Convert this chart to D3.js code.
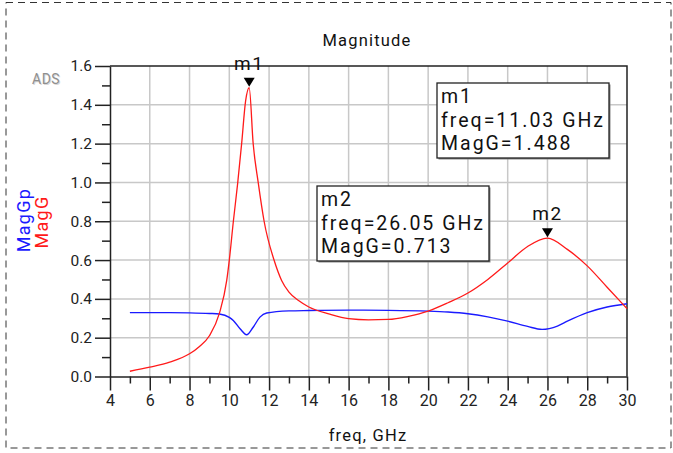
<!DOCTYPE html>
<html>
<head>
<meta charset="utf-8">
<script src="https://cdn.jsdelivr.net/npm/d3@7"></script>
<style>
  body { margin: 0; background: #fff; }
  text { font-family: Roboto, "Liberation Sans", sans-serif; }
</style>
</head>
<body>
<div id="plot"></div>
<script>
// MagG (red) readings, freq in GHz
var freqG = [5, 6, 7, 8, 8.5, 9, 9.5, 9.87, 10.0, 10.2, 10.42, 10.62, 10.82, 11.0, 11.2, 11.46, 11.75, 12.25, 12.63, 13, 13.5, 14, 15, 16, 17, 18, 19, 20, 21, 22, 23, 24, 25, 26, 27, 28, 29, 30];
var magG  = [0.027, 0.048, 0.074, 0.117, 0.155, 0.21, 0.325, 0.495, 0.6, 0.796, 0.995, 1.2, 1.42, 1.488, 1.2, 0.995, 0.8, 0.6, 0.495, 0.435, 0.39, 0.358, 0.323, 0.298, 0.292, 0.294, 0.31, 0.337, 0.38, 0.43, 0.5, 0.585, 0.67, 0.713, 0.655, 0.57, 0.46, 0.35];

// MagGp (blue) readings
var freqGp = [5, 6, 7, 8, 9, 9.5, 10.0, 10.2, 10.54, 10.87, 11.2, 11.54, 11.88, 13, 14, 16, 18, 20, 21, 22, 23, 24, 25, 25.73, 26.5, 27, 28, 29, 30];
var magGp  = [0.329, 0.329, 0.329, 0.328, 0.325, 0.322, 0.305, 0.289, 0.246, 0.215, 0.254, 0.306, 0.327, 0.338, 0.34, 0.342, 0.341, 0.337, 0.332, 0.323, 0.307, 0.285, 0.258, 0.243, 0.26, 0.285, 0.329, 0.358, 0.375];

var markerNames = ['m1', 'm2'];
var markerFreq  = [11.03, 26.05];
var markerVal   = [1.488, 0.713];

var xTicks = [4, 6, 8, 10, 12, 14, 16, 18, 20, 22, 24, 26, 28, 30];
var yTicks = [0.0, 0.2, 0.4, 0.6, 0.8, 1.0, 1.2, 1.4, 1.6];

var w = 673, h = 453;

var svg = d3.select('#plot').append('svg')
    .attr('width', w)
    .attr('height', h);

// dashed page border
svg.append('rect')
    .attr('x', 6).attr('y', 2.5)
    .attr('width', 665).attr('height', 445.5)
    .style('fill', 'none')
    .style('stroke', '#333')
    .style('stroke-width', 1)
    .style('stroke-dasharray', '7,5');

var x = d3.scaleLinear().domain([4, 30]).range([110, 627]);
var y = d3.scaleLinear().domain([0, 1.6]).range([376.5, 66]);

// grid
svg.append('g').selectAll('line')
    .data(xTicks.slice(1, -1))
    .enter().append('line')
    .attr('x1', function(d){ return x(d); })
    .attr('x2', function(d){ return x(d); })
    .attr('y1', y(0)).attr('y2', y(1.6))
    .style('stroke', '#c8c8c8').style('stroke-width', 1.5);

svg.append('g').selectAll('line')
    .data(yTicks.slice(1, -1))
    .enter().append('line')
    .attr('y1', function(d){ return y(d); })
    .attr('y2', function(d){ return y(d); })
    .attr('x1', x(4)).attr('x2', x(30))
    .style('stroke', '#c8c8c8').style('stroke-width', 1.5);

// minor ticks
svg.append('g')
    .attr('transform', 'translate(0,' + y(0) + ')')
    .call(d3.axisBottom(x).tickValues(d3.range(5, 30, 2)).tickSize(7).tickFormat(''))
    .call(function(g){ g.select('.domain').remove(); });

svg.append('g')
    .attr('transform', 'translate(' + x(4) + ',0)')
    .call(d3.axisLeft(y).tickValues(d3.range(0.1, 1.6, 0.2)).tickSize(8).tickFormat(''))
    .call(function(g){ g.select('.domain').remove(); });

// major axes
var xAxis = svg.append('g')
    .attr('class', 'axis')
    .attr('transform', 'translate(0,' + y(0) + ')')
    .call(d3.axisBottom(x).tickValues(xTicks).tickSize(14).tickPadding(4).tickSizeOuter(0));
xAxis.selectAll('text').style('font-size', '16px');

var yAxis = svg.append('g')
    .attr('class', 'axis')
    .attr('transform', 'translate(' + x(4) + ',0)')
    .call(d3.axisLeft(y).tickValues(yTicks).tickSize(15).tickPadding(3).tickSizeOuter(0)
        .tickFormat(d3.format('.1f')));
yAxis.selectAll('text').style('font-size', '15.5px');

svg.selectAll('.tick line').style('stroke', '#222').style('stroke-width', 1.5);
svg.selectAll('.tick text').style('fill', '#222').style('font-family', 'Roboto');
svg.selectAll('.domain').style('stroke', '#222').style('stroke-width', 1.5);

// top and right frame
svg.append('path')
    .attr('d', 'M' + x(4) + ',' + y(1.6) + 'H' + x(30) + 'V' + y(0))
    .style('fill', 'none').style('stroke', '#222').style('stroke-width', 1.5);

// curves
var lineG = d3.line()
    .x(function(d, i){ return x(freqG[i]); })
    .y(function(d){ return y(d); })
    .curve(d3.curveMonotoneX);

var lineGp = d3.line()
    .x(function(d, i){ return x(freqGp[i]); })
    .y(function(d){ return y(d); })
    .curve(d3.curveMonotoneX);

svg.append('path')
    .attr('d', lineGp(magGp))
    .style('fill', 'none').style('stroke', '#1a1aff').style('stroke-width', 1.4);

svg.append('path')
    .attr('d', lineG(magG))
    .style('fill', 'none').style('stroke', '#ff1a1a').style('stroke-width', 1.3);

// markers
var plotFreq = [11.0, 26.0];
markerNames.forEach(function(name, i){
    var px = x(plotFreq[i]), py = y(markerVal[i]) - 1;
    svg.append('path')
        .attr('d', 'M' + (px - 5.5) + ',' + (py - 9) + 'H' + (px + 5.5) + 'L' + px + ',' + py + 'Z')
        .style('fill', '#000');
    svg.append('text')
        .attr('x', px).attr('y', py - 17)
        .attr('text-anchor', 'middle')
        .style('font-size', '19px')
        .style('letter-spacing', '1.5px')
        .style('fill', '#111')
        .text(name);
});

// marker readout boxes
var boxPos = [[437, 83], [317, 186]];
markerNames.forEach(function(name, i){
    var g = svg.append('g').attr('transform', 'translate(' + boxPos[i][0] + ',' + boxPos[i][1] + ')');
    g.append('rect')
        .attr('x', 1.5).attr('y', 1.5).attr('width', 172).attr('height', 75)
        .style('fill', '#888');
    g.append('rect')
        .attr('width', 172).attr('height', 75)
        .style('fill', '#fff').style('stroke', '#222').style('stroke-width', 1.3);
    var lines = [name, 'freq=' + markerFreq[i].toFixed(2) + ' GHz', 'MagG=' + markerVal[i].toFixed(3)];
    g.selectAll('text.ln')
        .data(lines)
        .enter().append('text')
        .attr('class', 'ln')
        .attr('x', 4)
        .attr('y', function(d, j){ return 20 + j * 23.5; })
        .style('font-size', '19.5px')
        .style('letter-spacing', '2px')
        .style('fill', '#111')
        .text(function(d){ return d; });
});

// title and axis labels
svg.append('text')
    .attr('x', 367).attr('y', 46)
    .attr('text-anchor', 'middle')
    .style('font-size', '16.5px')
    .style('letter-spacing', '1.2px')
    .style('fill', '#111')
    .text('Magnitude');

svg.append('text')
    .attr('x', 368).attr('y', 441)
    .attr('text-anchor', 'middle')
    .style('font-size', '16.5px')
    .style('letter-spacing', '1.2px')
    .style('fill', '#111')
    .text('freq, GHz');

svg.append('text')
    .attr('transform', 'translate(30,220) rotate(-90)')
    .attr('text-anchor', 'middle')
    .style('font-size', '18px')
    .style('letter-spacing', '1.3px')
    .style('fill', '#1a1aff')
    .text('MagGp');

svg.append('text')
    .attr('transform', 'translate(48,222) rotate(-90)')
    .attr('text-anchor', 'middle')
    .style('font-size', '18px')
    .style('letter-spacing', '1.3px')
    .style('fill', '#ff1a1a')
    .text('MagG');

// ADS watermark
svg.append('text')
    .attr('x', 32).attr('y', 84)
    .attr('dx', 1).attr('dy', 1)
    .style('font-size', '14px')
    .style('letter-spacing', '0.5px')
    .style('fill', '#d8d8d8')
    .text('ADS');
svg.append('text')
    .attr('x', 32).attr('y', 84)
    .style('font-size', '14px')
    .style('letter-spacing', '0.5px')
    .style('fill', '#8f8f8f')
    .text('ADS');
</script>
</body>
</html>
